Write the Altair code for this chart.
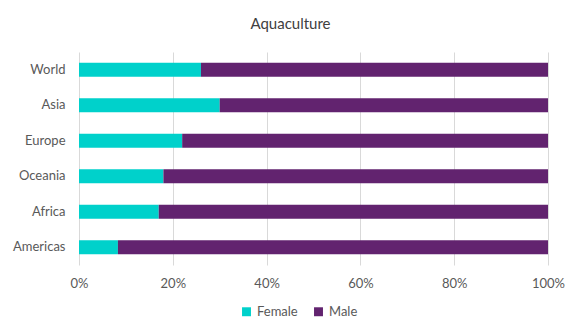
import altair as alt
import pandas as pd

regions = ["World", "Asia", "Europe", "Oceania", "Africa", "Americas"]
female = [26, 30, 22, 18, 17, 8.3]
male = [100 - f for f in female]
series = ["Female", "Male"]
colors = ["#00D1CB", "#62236F"]

rows = []
for r, f, m in zip(regions, female, male):
    rows.append({"Region": r, "Sex": "Female", "Share": f, "ord": 0})
    rows.append({"Region": r, "Sex": "Male", "Share": m, "ord": 1})
df = pd.DataFrame(rows)

FONT = "Lato"

chart = alt.Chart(df).mark_bar().encode(
    y=alt.Y("Region:N", sort=regions,
            scale=alt.Scale(paddingInner=0.6, paddingOuter=0.3),
            axis=alt.Axis(title=None, domain=False, ticks=False, grid=False,
                          labelPadding=14, labelFontSize=13, labelColor="#595959",
                          labelFont=FONT)),
    x=alt.X("Share:Q", stack="normalize",
            scale=alt.Scale(domain=[0, 1]),
            axis=alt.Axis(title=None, format=".0%", values=[0, 0.2, 0.4, 0.6, 0.8, 1.0],
                          domain=False, ticks=False, grid=True, gridColor="#D9D9D9",
                          labelFlush=False,
                          labelPadding=12, labelFontSize=13, labelColor="#595959",
                          labelFont=FONT)),
    color=alt.Color("Sex:N", sort=series,
                    scale=alt.Scale(domain=series, range=colors),
                    legend=alt.Legend(title=None, orient="none", direction="horizontal",
                                      legendX=161, legendY=253, symbolType="square",
                                      symbolSize=80, symbolStrokeWidth=0,
                                      labelFontSize=13, labelColor="#595959",
                                      labelFont=FONT, columnPadding=14)),
    order=alt.Order("ord:Q"),
).properties(
    width=469, height=213,
    title=alt.TitleParams("Aquaculture", fontSize=15, font=FONT, fontWeight="normal",
                          color="#404040", offset=20, dx=-23),
    autosize=alt.AutoSizeParams(type="none"),
    padding={"left": 79, "top": 52, "right": 18, "bottom": 55},
).configure_view(stroke=None)

chart.save("out.html", embed_options={"renderer": "svg", "actions": False})
